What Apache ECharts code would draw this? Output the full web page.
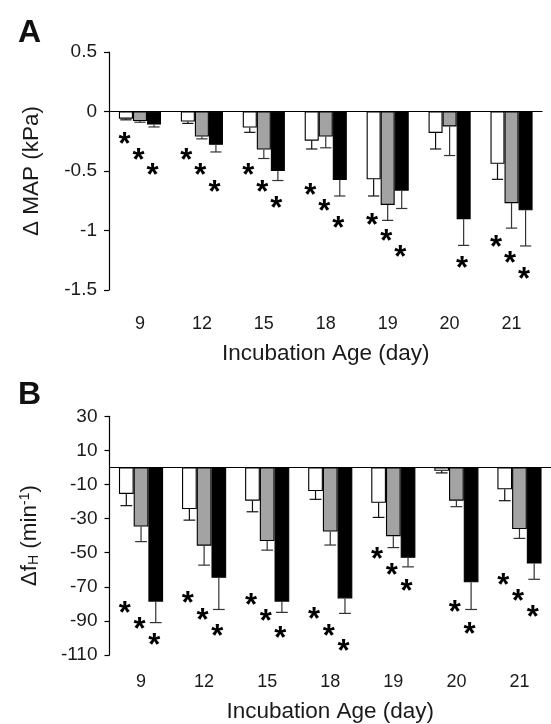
<!DOCTYPE html>
<html><head><meta charset="utf-8">
<script src="https://cdn.jsdelivr.net/npm/echarts@6/dist/echarts.min.js"></script>
<style>html,body{margin:0;padding:0;background:#fff}#c{width:551px;height:724px}</style>
</head><body><div id="c"></div>
<script>
// ---------- data ----------
const categories = ['9', '12', '15', '18', '19', '20', '21'];

// Panel A: Δ MAP (kPa)
const mapWhite = [-0.06, -0.085, -0.135, -0.245, -0.57, -0.18, -0.44];
const mapWhiteErr = [0.01, 0.015, 0.04, 0.07, 0.14, 0.135, 0.13];
const mapGray = [-0.08, -0.21, -0.32, -0.21, -0.785, -0.125, -0.77];
const mapGrayErr = [0.01, 0.02, 0.075, 0.095, 0.13, 0.245, 0.21];
const mapBlack = [-0.11, -0.28, -0.50, -0.575, -0.665, -0.905, -0.83];
const mapBlackErr = [0.02, 0.06, 0.08, 0.135, 0.15, 0.22, 0.30];
const mapStarWhite = [-0.23, -0.365, -0.49, -0.655, -0.91, null, -1.095];
const mapStarGray = [-0.36, -0.49, -0.63, -0.79, -1.04, null, -1.23];
const mapStarBlack = [-0.49, -0.63, -0.77, -0.93, -1.18, -1.27, -1.36];
const mapTicks = [-1.5, -1, -0.5, 0, 0.5];

// Panel B: Δf_H (min^-1)
const fhWhite = [-15.5, -24.4, -19.5, -13.8, -20.7, -2, -12.8];
const fhWhiteErr = [6.9, 6.5, 6.5, 4.9, 8.6, 1.2, 6.7];
const fhGray = [-34.7, -45.9, -43.2, -37.6, -40.3, -19.5, -36.1];
const fhGrayErr = [8.8, 11.4, 5.3, 7.9, 6.7, 3.5, 5.5];
const fhBlack = [-78.7, -64.7, -78.7, -76.8, -53, -67.4, -56.3];
const fhBlackErr = [12.3, 18.6, 6.3, 8.8, 5.3, 15.9, 9.3];
const fhStarWhite = [-82.2, -76.4, -77.7, -86, -50.8, null, -65.6];
const fhStarGray = [-91.4, -86.2, -87, -95.8, -59.8, -81.6, -75];
const fhStarBlack = [-100.8, -96, -96.7, -104.3, -69.4, -94.4, -84.4];
const fhTicks = [-110, -90, -70, -50, -30, -10, 10, 30];

// ---------- styling ----------
const FONT = 'Liberation Sans, Arial, Helvetica, sans-serif';
const fills = ['#ffffff', '#a3a3a3', '#000000'];
const errColors = ['#111', '#333', '#333'];
const gapA = 0.32, gapB = 0.30;

function barSeries(g, k, vals, gap, withZero) {
  const s = {
    type: 'bar', xAxisIndex: g, yAxisIndex: g, data: vals,
    barGap: '0%', barCategoryGap: (gap * 100) + '%',
    itemStyle: { color: fills[k], borderColor: '#000', borderWidth: 1.1 },
    silent: true, z: 2
  };
  if (withZero) {
    s.markLine = {
      silent: true, symbol: ['none', 'none'], label: { show: false },
      lineStyle: { color: '#000', width: 1.2, type: 'solid' },
      data: [{ yAxis: 0 }], z: 6
    };
  }
  return s;
}

function errSeries(g, k, vals, errs, gap) {
  return {
    type: 'custom', xAxisIndex: g, yAxisIndex: g, silent: true, z: 4,
    data: vals.map((v, i) => [i, v, errs[i]]),
    encode: { x: 0, y: 1 },
    renderItem: function (params, api) {
      const i = api.value(0), v = api.value(1), e = api.value(2);
      const top = api.coord([i, v]);
      const bot = api.coord([i, v - e]);
      const band = api.size([1, 0])[0];
      const bw = band * (1 - gap) / 3;
      const x = top[0] + (k - 1) * bw;
      const cap = bw * 0.4;
      const st = { stroke: errColors[k], lineWidth: 1.2 };
      return { type: 'group', children: [
        { type: 'line', shape: { x1: x, y1: top[1], x2: x, y2: bot[1] }, style: st },
        { type: 'line', shape: { x1: x - cap, y1: bot[1], x2: x + cap, y2: bot[1] }, style: st }
      ]};
    }
  };
}

function starSeries(g, k, stars, gap) {
  const data = [];
  stars.forEach((y, i) => { if (y !== null) data.push([i, y]); });
  const fs = 31;
  return {
    type: 'custom', xAxisIndex: g, yAxisIndex: g, silent: true, z: 5,
    data: data, encode: { x: 0, y: 1 },
    renderItem: function (params, api) {
      const p = api.coord([api.value(0), api.value(1)]);
      const band = api.size([1, 0])[0];
      const bw = band * (1 - gap) / 3;
      return {
        type: 'text', x: p[0] + (k - 1) * bw - 1.5, y: p[1] + 0.22 * fs,
        style: { text: '*', fill: '#000', font: 'bold ' + fs + 'px ' + FONT,
                 align: 'center', verticalAlign: 'middle' }
      };
    }
  };
}

const chart = echarts.init(document.getElementById('c'), null, { renderer: 'canvas' });

const labelStyle = { color: '#1a1a1a', fontFamily: FONT };

chart.setOption({
  animation: false,
  backgroundColor: '#fff',
  title: [
    { text: 'A', left: 13, top: 12, textStyle: { fontSize: 32, fontWeight: 'bold', color: '#111', fontFamily: FONT } },
    { text: 'B', left: 13, top: 374, textStyle: { fontSize: 32, fontWeight: 'bold', color: '#111', fontFamily: FONT } }
  ],
  grid: [
    { left: 109, top: 52, width: 433.5, height: 238 },
    { left: 109.5, top: 416.3, width: 441.5, height: 238.7 }
  ],
  xAxis: [
    { type: 'category', gridIndex: 0, data: categories, position: 'bottom',
      axisLine: { show: false, onZero: false }, axisTick: { show: false },
      axisLabel: Object.assign({ fontSize: 18, margin: 25 }, labelStyle),
      name: 'Incubation Age (day)', nameLocation: 'middle', nameGap: 52,
      nameTextStyle: Object.assign({ fontSize: 22.5 }, labelStyle) },
    { type: 'category', gridIndex: 1, data: categories, position: 'bottom',
      axisLine: { show: false, onZero: false }, axisTick: { show: false },
      axisLabel: Object.assign({ fontSize: 18, margin: 18 }, labelStyle),
      name: 'Incubation Age (day)', nameLocation: 'middle', nameGap: 45,
      nameTextStyle: Object.assign({ fontSize: 22.5 }, labelStyle) }
  ],
  yAxis: [
    { type: 'value', gridIndex: 0, min: -1.5, max: 0.5, interval: 0.5,
      axisLine: { show: true, lineStyle: { color: '#000', width: 1.2 } },
      axisTick: { show: true, inside: false, length: 5, lineStyle: { color: '#000', width: 1.2 } },
      splitLine: { show: false },
      axisLabel: Object.assign({ fontSize: 19, margin: 12, formatter: v => String(v) }, labelStyle),
      name: 'Δ MAP (kPa)', nameLocation: 'middle', nameRotate: 90, nameGap: 66,
      nameTextStyle: Object.assign({ fontSize: 22.5 }, labelStyle) },
    { type: 'value', gridIndex: 1, min: -110, max: 30, interval: 10,
      axisLine: { show: true, lineStyle: { color: '#000', width: 1.2 } },
      axisTick: { show: true, inside: false, length: 5, customValues: fhTicks, lineStyle: { color: '#000', width: 1.2 } },
      splitLine: { show: false },
      axisLabel: Object.assign({ fontSize: 19, margin: 12, customValues: fhTicks }, labelStyle),
      name: '{a|Δf}{sub|H}{a| (min}{sup|-1}{a|)}', nameLocation: 'middle', nameRotate: 90, nameGap: 66,
      nameTextStyle: Object.assign({
        fontSize: 22.5,
        rich: {
          a: { fontSize: 22.5, fontFamily: FONT, color: '#1a1a1a', lineHeight: 28, verticalAlign: 'middle' },
          sub: { fontSize: 14, fontFamily: FONT, color: '#1a1a1a', lineHeight: 28, verticalAlign: 'bottom', padding: [0, 0, 2, 0] },
          sup: { fontSize: 14, fontFamily: FONT, color: '#1a1a1a', lineHeight: 28, verticalAlign: 'top', padding: [3, 0, 0, 0] }
        }
      }, labelStyle) }
  ],
  series: [
    barSeries(0, 0, mapWhite, gapA, true),
    barSeries(0, 1, mapGray, gapA, false),
    barSeries(0, 2, mapBlack, gapA, false),
    errSeries(0, 0, mapWhite, mapWhiteErr, gapA),
    errSeries(0, 1, mapGray, mapGrayErr, gapA),
    errSeries(0, 2, mapBlack, mapBlackErr, gapA),
    starSeries(0, 0, mapStarWhite, gapA),
    starSeries(0, 1, mapStarGray, gapA),
    starSeries(0, 2, mapStarBlack, gapA),
    barSeries(1, 0, fhWhite, gapB, true),
    barSeries(1, 1, fhGray, gapB, false),
    barSeries(1, 2, fhBlack, gapB, false),
    errSeries(1, 0, fhWhite, fhWhiteErr, gapB),
    errSeries(1, 1, fhGray, fhGrayErr, gapB),
    errSeries(1, 2, fhBlack, fhBlackErr, gapB),
    starSeries(1, 0, fhStarWhite, gapB),
    starSeries(1, 1, fhStarGray, gapB),
    starSeries(1, 2, fhStarBlack, gapB)
  ]
});
</script>
</body></html>
